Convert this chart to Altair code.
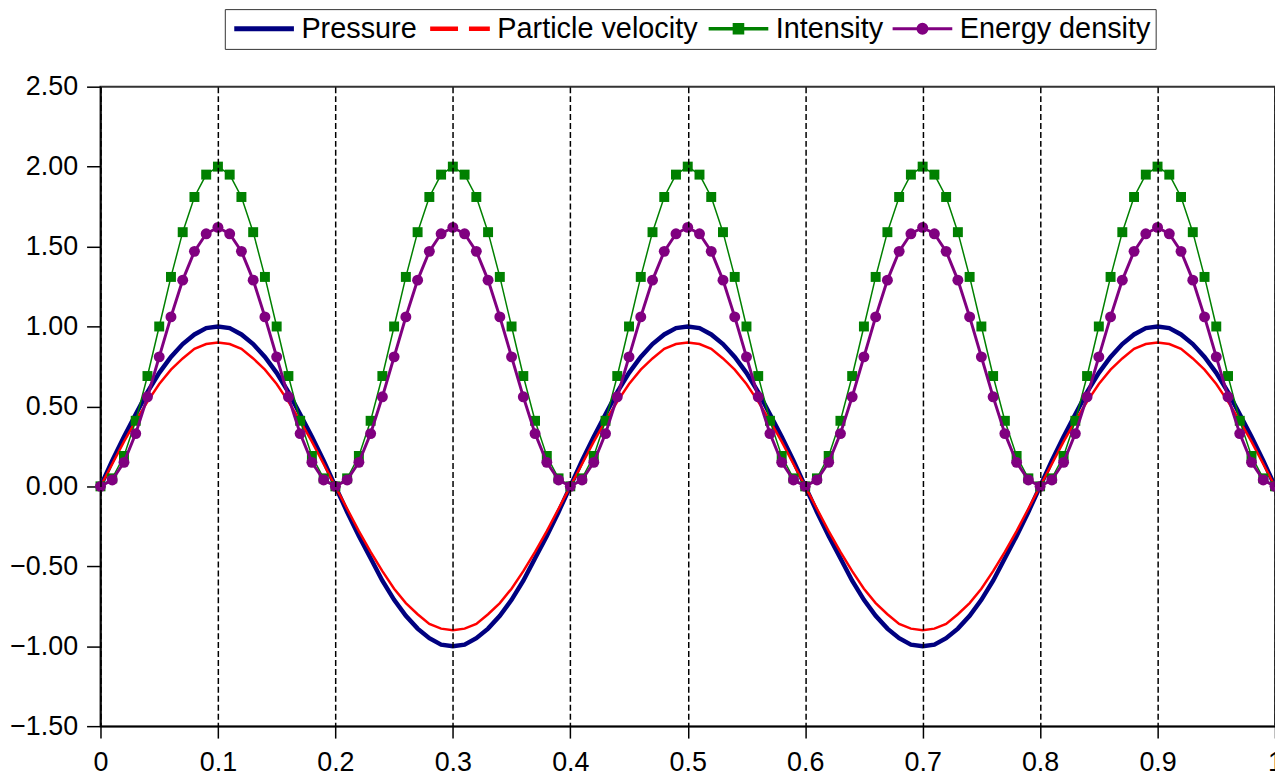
import altair as alt
import pandas as pd

x_values = [
    0.00, 0.01, 0.02, 0.03, 0.04, 0.05, 0.06, 0.07, 0.08, 0.09,
    0.10, 0.11, 0.12, 0.13, 0.14, 0.15, 0.16, 0.17, 0.18, 0.19,
    0.20, 0.21, 0.22, 0.23, 0.24, 0.25, 0.26, 0.27, 0.28, 0.29,
    0.30, 0.31, 0.32, 0.33, 0.34, 0.35, 0.36, 0.37, 0.38, 0.39,
    0.40, 0.41, 0.42, 0.43, 0.44, 0.45, 0.46, 0.47, 0.48, 0.49,
    0.50, 0.51, 0.52, 0.53, 0.54, 0.55, 0.56, 0.57, 0.58, 0.59,
    0.60, 0.61, 0.62, 0.63, 0.64, 0.65, 0.66, 0.67, 0.68, 0.69,
    0.70, 0.71, 0.72, 0.73, 0.74, 0.75, 0.76, 0.77, 0.78, 0.79,
    0.80, 0.81, 0.82, 0.83, 0.84, 0.85, 0.86, 0.87, 0.88, 0.89,
    0.90, 0.91, 0.92, 0.93, 0.94, 0.95, 0.96, 0.97, 0.98, 0.99,
    1.00,
]

pressure = [
    0.00, 0.16, 0.31, 0.45, 0.59, 0.71, 0.81, 0.89, 0.95, 0.99,
    1.00, 0.99, 0.95, 0.89, 0.81, 0.71, 0.59, 0.45, 0.31, 0.16,
    0.00, -0.16, -0.31, -0.45, -0.59, -0.71, -0.81, -0.89, -0.95, -0.99,
    -1.00, -0.99, -0.95, -0.89, -0.81, -0.71, -0.59, -0.45, -0.31, -0.16,
    0.00, 0.16, 0.31, 0.45, 0.59, 0.71, 0.81, 0.89, 0.95, 0.99,
    1.00, 0.99, 0.95, 0.89, 0.81, 0.71, 0.59, 0.45, 0.31, 0.16,
    0.00, -0.16, -0.31, -0.45, -0.59, -0.71, -0.81, -0.89, -0.95, -0.99,
    -1.00, -0.99, -0.95, -0.89, -0.81, -0.71, -0.59, -0.45, -0.31, -0.16,
    0.00, 0.16, 0.31, 0.45, 0.59, 0.71, 0.81, 0.89, 0.95, 0.99,
    1.00, 0.99, 0.95, 0.89, 0.81, 0.71, 0.59, 0.45, 0.31, 0.16,
    0.00,
]

velocity = [
    0.00, 0.14, 0.28, 0.41, 0.53, 0.64, 0.73, 0.80, 0.86, 0.89,
    0.90, 0.89, 0.86, 0.80, 0.73, 0.64, 0.53, 0.41, 0.28, 0.14,
    0.00, -0.14, -0.28, -0.41, -0.53, -0.64, -0.73, -0.80, -0.86, -0.89,
    -0.90, -0.89, -0.86, -0.80, -0.73, -0.64, -0.53, -0.41, -0.28, -0.14,
    0.00, 0.14, 0.28, 0.41, 0.53, 0.64, 0.73, 0.80, 0.86, 0.89,
    0.90, 0.89, 0.86, 0.80, 0.73, 0.64, 0.53, 0.41, 0.28, 0.14,
    0.00, -0.14, -0.28, -0.41, -0.53, -0.64, -0.73, -0.80, -0.86, -0.89,
    -0.90, -0.89, -0.86, -0.80, -0.73, -0.64, -0.53, -0.41, -0.28, -0.14,
    0.00, 0.14, 0.28, 0.41, 0.53, 0.64, 0.73, 0.80, 0.86, 0.89,
    0.90, 0.89, 0.86, 0.80, 0.73, 0.64, 0.53, 0.41, 0.28, 0.14,
    0.00,
]

intensity = [
    0.00, 0.05, 0.19, 0.41, 0.69, 1.00, 1.31, 1.59, 1.81, 1.95,
    2.00, 1.95, 1.81, 1.59, 1.31, 1.00, 0.69, 0.41, 0.19, 0.05,
    0.00, 0.05, 0.19, 0.41, 0.69, 1.00, 1.31, 1.59, 1.81, 1.95,
    2.00, 1.95, 1.81, 1.59, 1.31, 1.00, 0.69, 0.41, 0.19, 0.05,
    0.00, 0.05, 0.19, 0.41, 0.69, 1.00, 1.31, 1.59, 1.81, 1.95,
    2.00, 1.95, 1.81, 1.59, 1.31, 1.00, 0.69, 0.41, 0.19, 0.05,
    0.00, 0.05, 0.19, 0.41, 0.69, 1.00, 1.31, 1.59, 1.81, 1.95,
    2.00, 1.95, 1.81, 1.59, 1.31, 1.00, 0.69, 0.41, 0.19, 0.05,
    0.00, 0.05, 0.19, 0.41, 0.69, 1.00, 1.31, 1.59, 1.81, 1.95,
    2.00, 1.95, 1.81, 1.59, 1.31, 1.00, 0.69, 0.41, 0.19, 0.05,
    0.00,
]

energy = [
    0.00, 0.04, 0.15, 0.33, 0.56, 0.81, 1.06, 1.29, 1.47, 1.58,
    1.62, 1.58, 1.47, 1.29, 1.06, 0.81, 0.56, 0.33, 0.15, 0.04,
    0.00, 0.04, 0.15, 0.33, 0.56, 0.81, 1.06, 1.29, 1.47, 1.58,
    1.62, 1.58, 1.47, 1.29, 1.06, 0.81, 0.56, 0.33, 0.15, 0.04,
    0.00, 0.04, 0.15, 0.33, 0.56, 0.81, 1.06, 1.29, 1.47, 1.58,
    1.62, 1.58, 1.47, 1.29, 1.06, 0.81, 0.56, 0.33, 0.15, 0.04,
    0.00, 0.04, 0.15, 0.33, 0.56, 0.81, 1.06, 1.29, 1.47, 1.58,
    1.62, 1.58, 1.47, 1.29, 1.06, 0.81, 0.56, 0.33, 0.15, 0.04,
    0.00, 0.04, 0.15, 0.33, 0.56, 0.81, 1.06, 1.29, 1.47, 1.58,
    1.62, 1.58, 1.47, 1.29, 1.06, 0.81, 0.56, 0.33, 0.15, 0.04,
    0.00,
]

series_names = ["Pressure", "Particle velocity", "Intensity", "Energy density"]
series_colors = ["#000080", "#ff0000", "#008000", "#800080"]
legend_widths = [5, 3, 2, 3]
x_ticks = [0, 0.1, 0.2, 0.3, 0.4, 0.5, 0.6, 0.7, 0.8, 0.9, 1]
y_ticks = [-1.5, -1.0, -0.5, 0.0, 0.5, 1.0, 1.5, 2.0, 2.5]

# legend glyphs (line + marker) as symbol paths
legend_paths = [
    "M-3,0H3",
    "M-3,0H-0.2M0.9,0H3",
    "M-3,0H3M-0.4,-0.4H0.4V0.4H-0.4Z",
    "M-3,0H3M0.45,0A0.45,0.45,0,1,1,-0.45,0A0.45,0.45,0,1,1,0.45,0Z",
]

rows = []
for name, vals in zip(series_names, [pressure, velocity, intensity, energy]):
    for xv, yv in zip(x_values, vals):
        rows.append({"x": xv, "value": yv, "series": name})
df = pd.DataFrame(rows)

FONT = "Liberation Sans"

base = alt.Chart(df).encode(
    x=alt.X(
        "x:Q",
        scale=alt.Scale(domain=[0, 1], nice=False, zero=False),
        axis=alt.Axis(
            values=x_ticks, format="~g", title=None,
            grid=True, gridDash=[6, 3], gridColor="black", gridWidth=1.5, gridOpacity=1,
            labelFontSize=27, labelFont=FONT, labelColor="black",
            tickSize=12, tickColor="black", tickWidth=1.5,
            domainColor="black", domainWidth=1.5, labelPadding=12,
            labelFlush=False, labelOverlap=False, zindex=1,
        ),
    ),
    y=alt.Y(
        "value:Q",
        scale=alt.Scale(domain=[-1.5, 2.5], nice=False, zero=False),
        axis=alt.Axis(
            values=y_ticks, format=".2f", title=None, grid=False,
            labelFontSize=27, labelFont=FONT, labelColor="black",
            tickSize=14, tickColor="black", tickWidth=1.5,
            domainColor="black", domainWidth=1.5, labelPadding=9,
            labelFlush=False, labelOverlap=False,
        ),
    ),
)


def only(name):
    return base.transform_filter(alt.datum.series == name)


p_line = only("Pressure").mark_line(color=series_colors[0], strokeWidth=4.5)
v_line = only("Particle velocity").mark_line(color=series_colors[1], strokeWidth=2.5)
i_line = only("Intensity").mark_line(color=series_colors[2], strokeWidth=1.5)
i_pts = only("Intensity").mark_point(
    shape="square", filled=True, size=100, color=series_colors[2], opacity=1
)
e_line = only("Energy density").mark_line(color=series_colors[3], strokeWidth=3)
e_pts = only("Energy density").mark_point(
    shape="circle", filled=True, size=121, color=series_colors[3], opacity=1
)

leg = alt.Legend(
    title=None, orient="none", legendX=125, legendY=-78,
    direction="horizontal",
    symbolSize=400, symbolStrokeWidth=1.5, symbolOffset=20,
    labelOffset=23, columnPadding=3, padding=5,
    labelFont=FONT, labelFontSize=29, labelColor="black", labelLimit=500,
    strokeColor="#333333", symbolOpacity=1,
)

# legend-only layer: no rows drawn, entries come from the explicit scale domains
legend_layer = base.transform_filter("false").mark_point(filled=True, opacity=1).encode(
    shape=alt.Shape("series:O", scale=alt.Scale(domain=series_names, range=legend_paths), legend=leg),
    fill=alt.Fill("series:O", scale=alt.Scale(domain=series_names, range=series_colors), legend=leg),
    stroke=alt.Stroke("series:O", scale=alt.Scale(domain=series_names, range=series_colors), legend=leg),
    strokeWidth=alt.StrokeWidth("series:O", scale=alt.Scale(domain=series_names, range=legend_widths), legend=leg),
)

chart = (
    alt.layer(p_line, v_line, i_line, i_pts, e_line, e_pts, legend_layer)
    .properties(
        width=1181,
        height=643,
        autosize=alt.AutoSizeParams(type="none"),
        padding={"left": 93, "top": 77, "right": 0, "bottom": 48},
        background="white",
    )
    .configure_view(stroke="#333333", strokeWidth=2)
)

chart.save("out.html", embed_options={"renderer": "svg", "actions": False})
